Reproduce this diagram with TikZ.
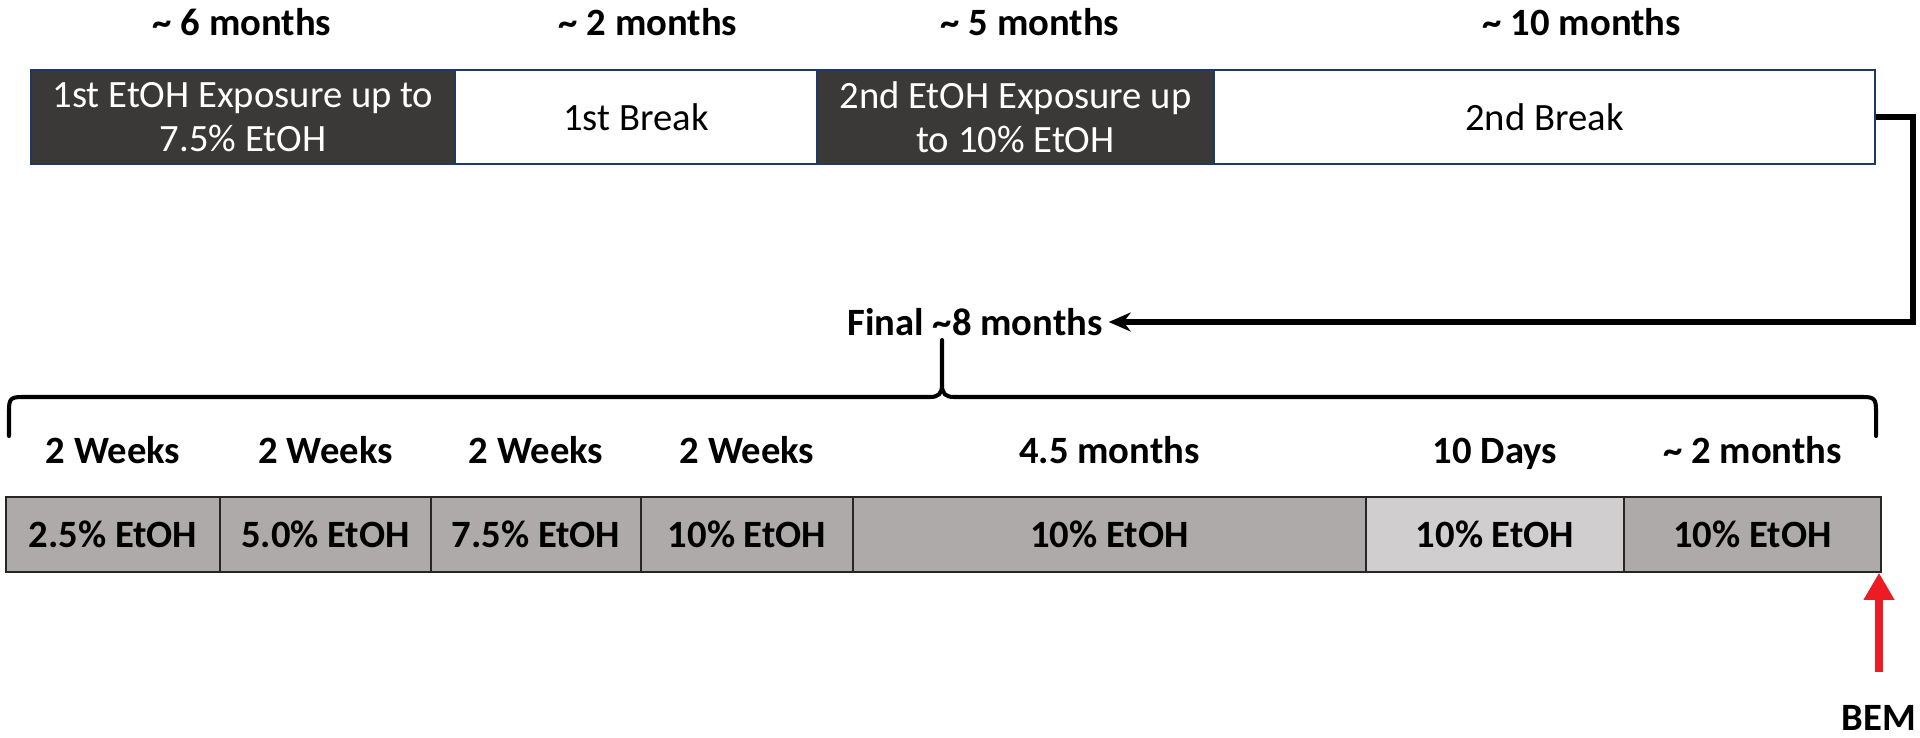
\documentclass[tikz,border=0pt]{standalone}
\usepackage{fontspec}
\setmainfont{Carlito}
\usepackage{tikz}
\usetikzlibrary{arrows.meta}
\definecolor{etohdark}{HTML}{3B3838}
\definecolor{boxline}{HTML}{1F3864}
\definecolor{stageline}{HTML}{262626}
\definecolor{stagegray}{HTML}{AEAAAA}
\definecolor{stagelight}{HTML}{D0CECE}
\definecolor{bemred}{HTML}{ED1C24}
\tikzstyle{period} = [rectangle, draw=boxline, line width=0.7pt, minimum height=1.88cm, align=center,
,inner sep=0pt,font=\fontsize{22}{25}\selectfont]
\tikzstyle{exposure} = [period, fill=etohdark, text=white]
\tikzstyle{pause} = [period, fill=white]
\tikzstyle{stage} = [rectangle, draw=stageline, line width=0.9pt, fill=stagegray, minimum height=1.5cm,
,inner sep=0pt,font=\bfseries\fontsize{22}{24}\selectfont]
\tikzstyle{duration} = [text height=15.4pt, text depth=5.5pt, font=\bfseries\fontsize{22}{24}\selectfont]
\tikzstyle{arrow} = [line width=3.2pt,-{Stealth[length=0.44cm,width=0.38cm]}]
\tikzstyle{brace} = [line width=2.3pt, line cap=round]
\tikzstyle{bemarrow} = [draw=bemred, line width=4.5pt,-{Triangle[length=0.54cm,width=0.58cm]}]

\begin{document}
\begin{tikzpicture}[x=0.02cm,y=-0.02cm]
    \useasboundingbox (0,0) rectangle (1920,737);
    % first part of the schedule
    \node[exposure, minimum width=8.48cm] (exp1) at (243,117) {1st EtOH Exposure up to \\ 7.5\% EtOH};
    \node[pause, minimum width=7.24cm] (brk1) at (636,117) {1st Break};
    \node[exposure, minimum width=7.94cm] (exp2) at (1015.5,117) {2nd EtOH Exposure up \\ to 10\% EtOH};
    \node[pause, minimum width=13.22cm] (brk2) at (1544.5,117) {2nd Break};
    \node[duration] (dexp1) at (242,27) {\textasciitilde{} 6 months};
    \node[duration] (dbrk1) at (648,27) {\textasciitilde{} 2 months};
    \node[duration] (dexp2) at (1030,27) {\textasciitilde{} 5 months};
    \node[duration] (dbrk2) at (1582,27) {\textasciitilde{} 10 months};

    % final period
    \node[duration] (final) at (975,327) {Final \textasciitilde8 months};
    \coordinate (turn) at (1913,322);
    \draw[arrow] (brk2.east) -| (turn) -- (final.east |- turn);
    \draw[brace] (942,340) -- (942,385) .. controls (942,394) and (938,397) .. (930,397) -- (22,397)
        .. controls (11,397) and (9,399) .. (9,410) -- (9,436);
    \draw[brace] (942,385) .. controls (942,394) and (946,397) .. (954,397) -- (1863,397)
        .. controls (1874,397) and (1876,399) .. (1876,410) -- (1876,436);

    \node[stage, minimum width=4.28cm] (s1) at (113,534.5) {2.5\% EtOH};
    \node[stage, minimum width=4.22cm] (s2) at (325.5,534.5) {5.0\% EtOH};
    \node[stage, minimum width=4.20cm] (s3) at (536,534.5) {7.5\% EtOH};
    \node[stage, minimum width=4.24cm] (s4) at (747,534.5) {10\% EtOH};
    \node[stage, minimum width=10.26cm] (s5) at (1109.5,534.5) {10\% EtOH};
    \node[stage, fill=stagelight, minimum width=5.16cm] (s6) at (1495,534.5) {10\% EtOH};
    \node[stage, minimum width=5.14cm] (s7) at (1752.5,534.5) {10\% EtOH};
    \node[duration] (ds1) at (113,455) {2 Weeks};
    \node[duration] (ds2) at (325.5,455) {2 Weeks};
    \node[duration] (ds3) at (536,455) {2 Weeks};
    \node[duration] (ds4) at (747,455) {2 Weeks};
    \node[duration] (ds5) at (1109.5,455) {4.5 months};
    \node[duration] (ds6) at (1495,455) {10 Days};
    \node[duration] (ds7) at (1752.5,455) {\textasciitilde{} 2 months};

    \node[duration] (bem) at (1879,722) {BEM};
    \draw[bemarrow, shorten <=0.5cm] (bem) -- (bem |- s7.south);
\end{tikzpicture}
\end{document}
